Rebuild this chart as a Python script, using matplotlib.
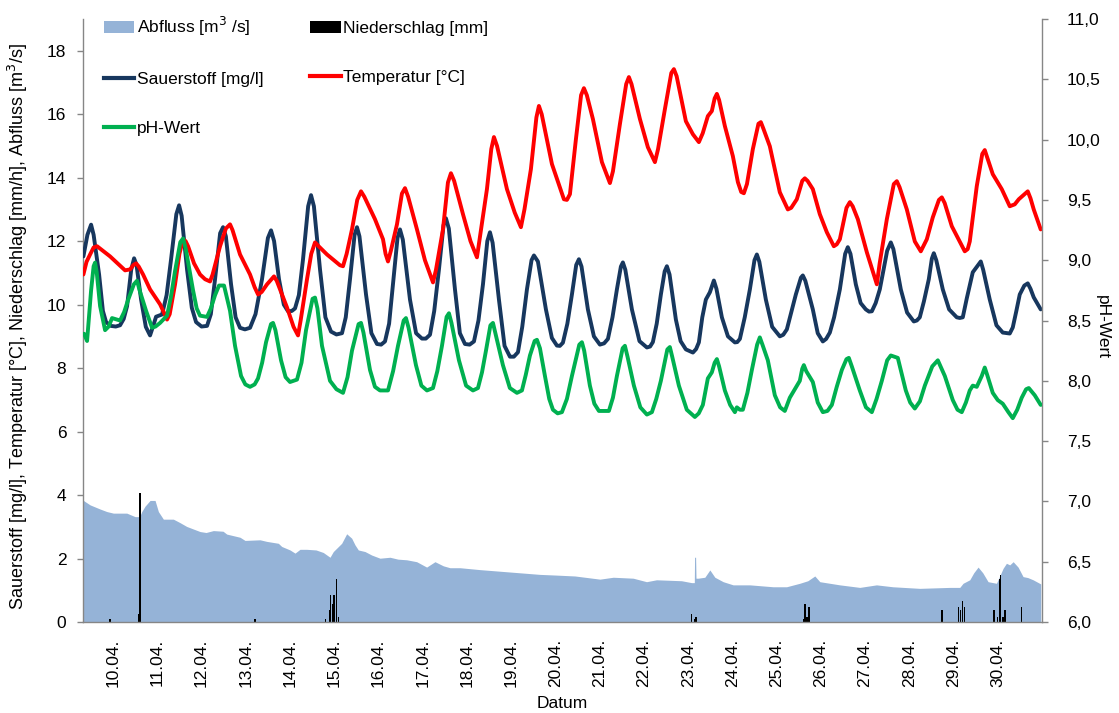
import matplotlib
matplotlib.use("Agg")
import matplotlib.pyplot as plt
from matplotlib.lines import Line2D
from matplotlib.patches import Patch
from matplotlib.ticker import FuncFormatter

plt.rcParams["font.family"] = ["Liberation Sans", "DejaVu Sans"]

# ---- time axis: day of April (decimal) ----
day_ticks = list(range(10, 31))
day_labels = [f"{d:02d}.04." for d in day_ticks]

# ---- Sauerstoff [mg/l]: (day, value) ----
sauerstoff = [
    (9.329, 11.52), (9.42, 12.2), (9.503, 12.52), (9.56, 12.2), (9.684, 10.95), (9.77, 9.8),
    (9.842, 9.45), (9.95, 9.33), (10.06, 9.31), (10.158, 9.35), (10.24, 9.55), (10.316, 9.95),
    (10.41, 11.1), (10.475, 11.46), (10.53, 11.25), (10.633, 10.16), (10.74, 9.3), (10.836, 9.03),
    (10.90, 9.3), (10.972, 9.62), (11.107, 9.69), (11.21, 10.3), (11.311, 11.43), (11.43, 12.85),
    (11.492, 13.13), (11.55, 12.8), (11.672, 11.11), (11.78, 9.9), (11.876, 9.45), (12.00, 9.31),
    (12.124, 9.33), (12.21, 9.7), (12.305, 10.8), (12.42, 12.25), (12.486, 12.44), (12.55, 12.15),
    (12.667, 10.64), (12.77, 9.6), (12.870, 9.27), (12.98, 9.22), (13.096, 9.27), (13.22, 9.7),
    (13.367, 10.8), (13.50, 12.1), (13.571, 12.34), (13.64, 12.0), (13.751, 10.8), (13.86, 10.0),
    (13.955, 9.79), (14.04, 9.8), (14.113, 9.88), (14.20, 10.3), (14.294, 11.43), (14.41, 13.1),
    (14.475, 13.45), (14.54, 13.1), (14.678, 11.11), (14.80, 9.6), (14.927, 9.15), (15.05, 9.06),
    (15.175, 9.1), (15.26, 9.6), (15.356, 10.8), (15.46, 12.2), (15.514, 12.44), (15.57, 12.15),
    (15.718, 10.32), (15.84, 9.1), (15.966, 8.76), (16.06, 8.74), (16.147, 8.84), (16.24, 9.4),
    (16.328, 10.64), (16.43, 12.1), (16.486, 12.37), (16.55, 12.05), (16.712, 10.16), (16.85, 9.1),
    (16.983, 8.93), (17.07, 8.93), (17.164, 9.05), (17.26, 9.8), (17.367, 11.11), (17.47, 12.5),
    (17.525, 12.72), (17.59, 12.4), (17.729, 10.48), (17.84, 9.1), (17.955, 8.76), (18.06, 8.74),
    (18.158, 8.84), (18.26, 9.5), (18.362, 10.64), (18.46, 12.0), (18.520, 12.28), (18.58, 11.95),
    (18.723, 10.16), (18.85, 8.7), (18.972, 8.36), (19.06, 8.36), (19.153, 8.5), (19.25, 9.3),
    (19.356, 10.48), (19.46, 11.4), (19.514, 11.55), (19.604, 11.36), (19.785, 9.85), (19.92, 8.95),
    (20.034, 8.71), (20.10, 8.70), (20.169, 8.8), (20.27, 9.4), (20.373, 10.32), (20.47, 11.25),
    (20.531, 11.43), (20.59, 11.2), (20.734, 9.85), (20.87, 9.0), (21.006, 8.74), (21.10, 8.78),
    (21.187, 8.92), (21.29, 9.6), (21.390, 10.48), (21.48, 11.2), (21.525, 11.33), (21.58, 11.1),
    (21.729, 9.85), (21.90, 8.85), (22.068, 8.65), (22.14, 8.68), (22.203, 8.82), (22.29, 9.4),
    (22.384, 10.32), (22.47, 11.05), (22.520, 11.21), (22.58, 10.95), (22.723, 9.53), (22.83, 8.85),
    (22.949, 8.59), (23.108, 8.49), (23.18, 8.6), (23.243, 8.81), (23.32, 9.6), (23.401, 10.16),
    (23.492, 10.39), (23.582, 10.76), (23.64, 10.5), (23.763, 9.60), (23.90, 9.0), (24.057, 8.81),
    (24.11, 8.82), (24.170, 8.92), (24.28, 9.6), (24.396, 10.48), (24.50, 11.4), (24.554, 11.58),
    (24.61, 11.35), (24.757, 10.16), (24.90, 9.3), (25.073, 9.0), (25.15, 9.05), (25.232, 9.22),
    (25.435, 10.32), (25.55, 10.85), (25.593, 10.92), (25.65, 10.75), (25.819, 9.85), (25.93, 9.1),
    (26.045, 8.84), (26.12, 8.92), (26.204, 9.12), (26.30, 9.6), (26.430, 10.48), (26.55, 11.6),
    (26.610, 11.81), (26.67, 11.6), (26.791, 10.64), (26.90, 10.05), (27.017, 9.85), (27.09, 9.78),
    (27.153, 9.79), (27.24, 10.05), (27.333, 10.48), (27.50, 11.7), (27.582, 11.96), (27.64, 11.75),
    (27.808, 10.48), (27.95, 9.75), (28.102, 9.47), (28.17, 9.5), (28.237, 9.6), (28.33, 10.1),
    (28.441, 10.8), (28.51, 11.45), (28.554, 11.62), (28.61, 11.4), (28.757, 10.48), (28.90, 9.85),
    (29.073, 9.6), (29.14, 9.58), (29.209, 9.6), (29.30, 10.2), (29.435, 11.02), (29.53, 11.2),
    (29.616, 11.36), (29.67, 11.1), (29.819, 10.16), (29.97, 9.35), (30.113, 9.12), (30.271, 9.09),
    (30.339, 9.28), (30.42, 9.8), (30.497, 10.32), (30.60, 10.6), (30.678, 10.67), (30.74, 10.5),
    (30.813, 10.23), (30.971, 9.85),
]

# ---- Temperatur [°C]: (day, value) ----
temperatur = [
    (9.329, 10.95), (9.40, 11.35), (9.480, 11.58), (9.56, 11.8), (9.638, 11.84), (9.72, 11.75),
    (9.932, 11.52), (10.10, 11.3), (10.271, 11.08), (10.384, 11.11), (10.46, 11.25), (10.520, 11.30),
    (10.58, 11.2), (10.678, 10.95), (10.836, 10.48), (11.062, 10.01), (11.15, 9.75), (11.220, 9.53),
    (11.28, 9.7), (11.401, 10.64), (11.50, 11.6), (11.582, 12.06), (11.64, 12.0), (11.695, 11.84),
    (11.83, 11.3), (11.966, 10.95), (12.08, 10.8), (12.192, 10.73), (12.25, 10.95), (12.418, 11.84),
    (12.55, 12.4), (12.644, 12.53), (12.70, 12.35), (12.870, 11.58), (13.096, 10.95), (13.20, 10.55),
    (13.277, 10.32), (13.36, 10.4), (13.480, 10.64), (13.638, 10.89), (13.70, 10.75), (13.932, 9.91),
    (14.08, 9.3), (14.181, 9.03), (14.24, 9.5), (14.384, 10.8), (14.48, 11.6), (14.565, 11.96),
    (14.64, 11.85), (14.836, 11.58), (15.130, 11.24), (15.198, 11.21), (15.28, 11.6), (15.401, 12.37),
    (15.52, 13.3), (15.605, 13.57), (15.68, 13.4), (15.921, 12.69), (16.102, 12.06), (16.16, 11.6),
    (16.215, 11.36), (16.28, 11.7), (16.418, 12.53), (16.53, 13.5), (16.599, 13.67), (16.67, 13.4),
    (16.870, 12.37), (17.05, 11.4), (17.232, 10.70), (17.30, 11.1), (17.458, 12.37), (17.57, 13.85),
    (17.638, 14.14), (17.71, 13.9), (17.910, 12.85), (18.08, 12.0), (18.226, 11.49), (18.30, 12.2),
    (18.452, 13.64), (18.55, 14.9), (18.610, 15.28), (18.68, 15.0), (18.904, 13.64), (19.08, 12.9),
    (19.220, 12.44), (19.30, 13.0), (19.446, 14.27), (19.57, 15.9), (19.627, 16.26), (19.69, 16.0),
    (19.921, 14.43), (20.192, 13.32), (20.26, 13.3), (20.328, 13.48), (20.463, 15.21), (20.58, 16.6),
    (20.644, 16.82), (20.71, 16.6), (20.847, 15.85), (21.051, 14.49), (21.232, 13.83), (21.30, 14.2),
    (21.458, 15.69), (21.60, 16.95), (21.661, 17.17), (21.72, 16.95), (21.910, 15.85), (22.090, 14.96),
    (22.249, 14.49), (22.32, 14.9), (22.475, 16.16), (22.62, 17.3), (22.678, 17.42), (22.74, 17.2),
    (22.949, 15.78), (23.107, 15.37), (23.243, 15.12), (23.33, 15.4), (23.446, 15.94), (23.536, 16.10),
    (23.60, 16.5), (23.650, 16.64), (23.70, 16.45), (23.830, 15.63), (24.011, 14.68), (24.125, 13.86),
    (24.20, 13.55), (24.260, 13.51), (24.33, 13.8), (24.463, 14.90), (24.59, 15.7), (24.644, 15.75),
    (24.70, 15.55), (24.847, 14.99), (25.073, 13.54), (25.254, 13.00), (25.33, 13.05), (25.457, 13.32),
    (25.58, 13.9), (25.638, 13.98), (25.70, 13.9), (25.819, 13.64), (25.977, 12.85), (26.136, 12.28),
    (26.294, 11.84), (26.36, 11.9), (26.430, 12.06), (26.58, 13.05), (26.656, 13.23), (26.72, 13.1),
    (26.837, 12.69), (27.040, 11.65), (27.266, 10.64), (27.33, 11.3), (27.492, 12.69), (27.65, 13.8),
    (27.718, 13.89), (27.78, 13.7), (27.944, 13.00), (28.125, 11.99), (28.260, 11.68), (28.396, 12.06),
    (28.531, 12.75), (28.67, 13.3), (28.735, 13.38), (28.80, 13.2), (28.961, 12.47), (29.254, 11.68),
    (29.32, 11.75), (29.367, 11.99), (29.525, 13.73), (29.65, 14.75), (29.706, 14.87), (29.77, 14.6),
    (29.887, 14.11), (30.090, 13.64), (30.271, 13.10), (30.384, 13.16), (30.475, 13.32), (30.62, 13.5),
    (30.678, 13.57), (30.74, 13.35), (30.813, 13.00), (30.971, 12.37),
]

# ---- pH-Wert: (day, value) ----
ph_wert = [
    (9.345, 8.39), (9.412, 8.33), (9.46, 8.55), (9.503, 8.75), (9.56, 8.95), (9.593, 8.98),
    (9.63, 8.9), (9.706, 8.62), (9.819, 8.42), (9.90, 8.45), (9.977, 8.52), (10.158, 8.50),
    (10.25, 8.57), (10.339, 8.67), (10.47, 8.8), (10.542, 8.83), (10.60, 8.75), (10.746, 8.58),
    (10.881, 8.44), (10.96, 8.45), (11.062, 8.48), (11.220, 8.54), (11.31, 8.7), (11.401, 8.91),
    (11.52, 9.15), (11.582, 9.18), (11.64, 9.1), (11.808, 8.75), (11.89, 8.6), (11.966, 8.54),
    (12.124, 8.53), (12.21, 8.6), (12.305, 8.71), (12.395, 8.79), (12.508, 8.79), (12.644, 8.58),
    (12.757, 8.29), (12.893, 8.04), (12.99, 7.97), (13.096, 7.95), (13.20, 7.97), (13.277, 8.02),
    (13.37, 8.15), (13.458, 8.32), (13.57, 8.47), (13.616, 8.48), (13.67, 8.42), (13.797, 8.17),
    (13.90, 8.03), (14.000, 7.99), (14.158, 8.01), (14.26, 8.15), (14.362, 8.42), (14.51, 8.68),
    (14.565, 8.69), (14.62, 8.6), (14.723, 8.29), (14.904, 8.0), (15.05, 7.93), (15.198, 7.90),
    (15.30, 8.03), (15.401, 8.25), (15.55, 8.47), (15.605, 8.48), (15.66, 8.4), (15.808, 8.09),
    (15.92, 7.95), (16.034, 7.92), (16.215, 7.92), (16.33, 8.08), (16.441, 8.29), (16.57, 8.5),
    (16.621, 8.52), (16.68, 8.44), (16.847, 8.13), (16.97, 7.96), (17.096, 7.92), (17.232, 7.94),
    (17.33, 8.08), (17.435, 8.29), (17.54, 8.53), (17.593, 8.56), (17.65, 8.48), (17.819, 8.17),
    (17.98, 7.96), (18.136, 7.92), (18.249, 7.94), (18.34, 8.07), (18.430, 8.25), (18.53, 8.46),
    (18.588, 8.48), (18.64, 8.4), (18.813, 8.13), (18.97, 7.94), (19.130, 7.90), (19.243, 7.92),
    (19.33, 8.05), (19.424, 8.21), (19.53, 8.33), (19.582, 8.34), (19.65, 8.27), (19.763, 8.04),
    (19.86, 7.85), (19.944, 7.76), (20.05, 7.73), (20.147, 7.74), (20.26, 7.85), (20.373, 8.04),
    (20.54, 8.3), (20.599, 8.32), (20.65, 8.25), (20.779, 7.96), (20.88, 7.81), (20.983, 7.75),
    (21.209, 7.75), (21.30, 7.86), (21.390, 8.04), (21.52, 8.27), (21.571, 8.29), (21.63, 8.2),
    (21.774, 7.96), (21.92, 7.78), (22.068, 7.72), (22.181, 7.74), (22.28, 7.85), (22.384, 8.0),
    (22.53, 8.26), (22.587, 8.28), (22.64, 8.2), (22.791, 7.96), (22.97, 7.76), (23.152, 7.70),
    (23.24, 7.73), (23.333, 7.80), (23.446, 8.02), (23.536, 8.07), (23.60, 8.15), (23.650, 8.18),
    (23.70, 8.12), (23.830, 7.92), (23.95, 7.80), (24.057, 7.74), (24.102, 7.78), (24.170, 7.76),
    (24.237, 7.76), (24.34, 7.9), (24.441, 8.09), (24.56, 8.3), (24.621, 8.36), (24.68, 8.3),
    (24.802, 8.17), (24.960, 7.88), (25.08, 7.78), (25.186, 7.75), (25.299, 7.86), (25.525, 8.0),
    (25.58, 8.1), (25.616, 8.13), (25.67, 8.08), (25.819, 7.99), (25.93, 7.82), (26.045, 7.74),
    (26.15, 7.75), (26.249, 7.80), (26.36, 7.95), (26.475, 8.09), (26.58, 8.18), (26.633, 8.19),
    (26.70, 8.12), (26.881, 7.92), (27.02, 7.78), (27.153, 7.74), (27.26, 7.85), (27.379, 8.00),
    (27.50, 8.17), (27.582, 8.21), (27.740, 8.19), (27.921, 7.92), (28.02, 7.82), (28.125, 7.77),
    (28.24, 7.83), (28.351, 7.96), (28.52, 8.12), (28.645, 8.17), (28.803, 8.04), (28.983, 7.84),
    (29.09, 7.76), (29.186, 7.74), (29.28, 7.82), (29.367, 7.92), (29.435, 7.96), (29.525, 7.95),
    (29.638, 8.04), (29.706, 8.11), (29.76, 8.05), (29.887, 7.90), (30.00, 7.84), (30.113, 7.81),
    (30.24, 7.74), (30.339, 7.69), (30.44, 7.76), (30.542, 7.86), (30.64, 7.93), (30.701, 7.94),
    (30.836, 7.88), (30.971, 7.80),
]

# ---- Abfluss [m3/s]: (day, value) ----
abfluss = [
    (9.329, 3.83), (9.480, 3.69), (9.706, 3.56), (9.858, 3.48), (10.007, 3.43), (10.310, 3.43),
    (10.497, 3.32), (10.599, 3.32), (10.649, 3.48), (10.723, 3.65), (10.836, 3.83), (10.949, 3.83),
    (11.024, 3.48), (11.137, 3.24), (11.363, 3.24), (11.514, 3.13), (11.665, 3.01), (11.815, 2.93),
    (11.966, 2.85), (12.102, 2.82), (12.267, 2.88), (12.486, 2.86), (12.569, 2.77), (12.870, 2.67),
    (12.983, 2.57), (13.322, 2.59), (13.473, 2.54), (13.736, 2.48), (13.812, 2.38), (14.000, 2.27),
    (14.113, 2.17), (14.226, 2.29), (14.377, 2.29), (14.588, 2.27), (14.752, 2.19), (14.904, 2.04),
    (14.979, 2.22), (15.168, 2.48), (15.281, 2.78), (15.394, 2.64), (15.469, 2.43), (15.544, 2.27),
    (15.695, 2.22), (15.846, 2.11), (16.034, 2.01), (16.260, 2.04), (16.441, 1.98), (16.637, 1.96),
    (16.863, 1.90), (17.089, 1.73), (17.277, 1.90), (17.465, 1.77), (17.616, 1.71), (17.842, 1.71),
    (18.294, 1.65), (18.746, 1.60), (19.198, 1.55), (19.650, 1.50), (19.989, 1.48), (20.441, 1.45),
    (21.006, 1.35), (21.307, 1.41), (21.758, 1.38), (22.060, 1.27), (22.286, 1.33), (22.851, 1.30),
    (23.078, 1.24), (23.140, 1.24), (23.146, 2.04), (23.169, 2.04), (23.178, 1.38), (23.227, 1.38),
    (23.378, 1.41), (23.491, 1.64), (23.604, 1.41), (23.792, 1.27), (24.018, 1.17), (24.396, 1.17),
    (24.923, 1.11), (25.225, 1.11), (25.525, 1.22), (25.706, 1.30), (25.864, 1.45), (25.977, 1.27),
    (26.429, 1.17), (26.881, 1.09), (27.258, 1.17), (27.627, 1.11), (28.237, 1.06), (28.915, 1.09),
    (29.141, 1.09), (29.216, 1.22), (29.367, 1.33), (29.457, 1.55), (29.555, 1.73), (29.661, 1.55),
    (29.781, 1.27), (29.970, 1.22), (30.045, 1.45), (30.120, 1.69), (30.196, 1.85), (30.271, 1.80),
    (30.348, 1.90), (30.459, 1.73), (30.572, 1.43), (30.678, 1.40), (30.798, 1.33), (30.971, 1.20),
]

# ---- Niederschlag [mm]: (day, value) ----
niederschlag = [
    (9.932, 0.10), (10.572, 0.25), (10.610, 4.08), (13.209, 0.10), (14.807, 0.10), (14.888, 0.38),
    (14.920, 0.85), (14.965, 0.57), (14.994, 0.85), (15.055, 1.36), (15.092, 0.17), (23.078, 0.25),
    (23.137, 0.08), (23.175, 0.15), (25.616, 0.08), (25.645, 0.57), (25.691, 0.15), (25.729, 0.46),
    (28.741, 0.38), (29.119, 0.46), (29.164, 0.38), (29.202, 0.67), (29.254, 0.46), (29.916, 0.38),
    (29.993, 0.17), (30.045, 1.35), (30.068, 1.48), (30.120, 0.17), (30.165, 0.38), (30.536, 0.46),
]

# ---- colours ----
c_q = "#95B3D7"
c_rain = "#000000"
c_o2 = "#17375E"
c_temp = "#FF0000"
c_ph = "#00B050"
c_axis = "#868686"


def split(pairs):
    return [p[0] for p in pairs], [p[1] for p in pairs]


W, H = 1119, 713
fig = plt.figure(figsize=(W / 100, H / 100), dpi=100)
ax = fig.add_axes([83 / W, 1 - 622 / H, (1042 - 83) / W, (622 - 19) / H])
ax2 = ax.twinx()

q_t, q_v = split(abfluss)
r_t, r_v = split(niederschlag)
o_t, o_v = split(sauerstoff)
t_t, t_v = split(temperatur)
p_t, p_v = split(ph_wert)

ax.fill_between(q_t, 0, q_v, color=c_q, lw=0, zorder=1)
ax.bar(r_t, r_v, width=0.03, color=c_rain, lw=0, zorder=2)
line_kw = dict(lw=2.8, solid_joinstyle="round", solid_capstyle="round")
ax.plot(o_t, o_v, color=c_o2, zorder=3, **line_kw)
ax.plot(t_t, t_v, color=c_temp, zorder=4, **line_kw)
ax2.plot(p_t, p_v, color=c_ph, zorder=3, **line_kw)

ax.set_xlim(9.32, 31.0)
ax.set_ylim(0, 19)
ax2.set_ylim(6, 11)
ax.set_yticks(range(0, 19, 2))
ax2.set_yticks([6 + 0.5 * i for i in range(11)])
ax2.yaxis.set_major_formatter(FuncFormatter(lambda v, p: f"{v:.1f}".replace(".", ",")))

ax.set_xticks(day_ticks)
ax.set_xticklabels(day_labels, rotation=90)

for a in (ax, ax2):
    a.spines["top"].set_visible(False)
    for s in ("left", "right", "bottom"):
        a.spines[s].set_color(c_axis)
        a.spines[s].set_linewidth(1.0)
ax.spines["right"].set_visible(False)
ax2.spines["left"].set_visible(False)
ax2.spines["bottom"].set_visible(False)

ax.tick_params(axis="x", length=0, pad=12, labelsize=12.5, colors="black")
ax.tick_params(axis="y", length=4, width=1, color=c_axis, pad=8, labelsize=12.5)
ax2.tick_params(axis="y", length=4, width=1, color=c_axis, pad=14, labelsize=12.5)

ax.set_ylabel("Sauerstoff [mg/l], Temperatur [°C], Niederschlag [mm/h], Abfluss [m$^3$/s]",
              fontsize=13)
ax.yaxis.set_label_coords(-0.055, 0.49)
ax2.set_ylabel("pH-Wert", fontsize=12.5, rotation=270)
ax2.yaxis.set_label_coords(1.071, 0.49)
ax.set_xlabel("Datum", fontsize=12.5)
ax.xaxis.set_label_coords(0.5, -0.123)

handles = [
    Patch(facecolor=c_q, edgecolor="none"),
    Line2D([], [], color=c_o2, lw=3),
    Line2D([], [], color=c_ph, lw=3),
    Patch(facecolor=c_rain, edgecolor="none"),
    Line2D([], [], color=c_temp, lw=3),
]
labels = ["Abfluss [m$^3$ /s]", "Sauerstoff [mg/l]", "pH-Wert",
          "Niederschlag [mm]", "Temperatur [°C]"]
fig.legend(handles, labels, ncol=2, loc="upper left",
           bbox_to_anchor=(104 / W, 1 - 15 / H), bbox_transform=fig.transFigure,
           frameon=False, fontsize=12.5, borderpad=0, borderaxespad=0, handlelength=1.75,
           handleheight=0.65, handletextpad=0.15, labelspacing=1.95, columnspacing=2.7)

fig.savefig("out.png", dpi=100)
